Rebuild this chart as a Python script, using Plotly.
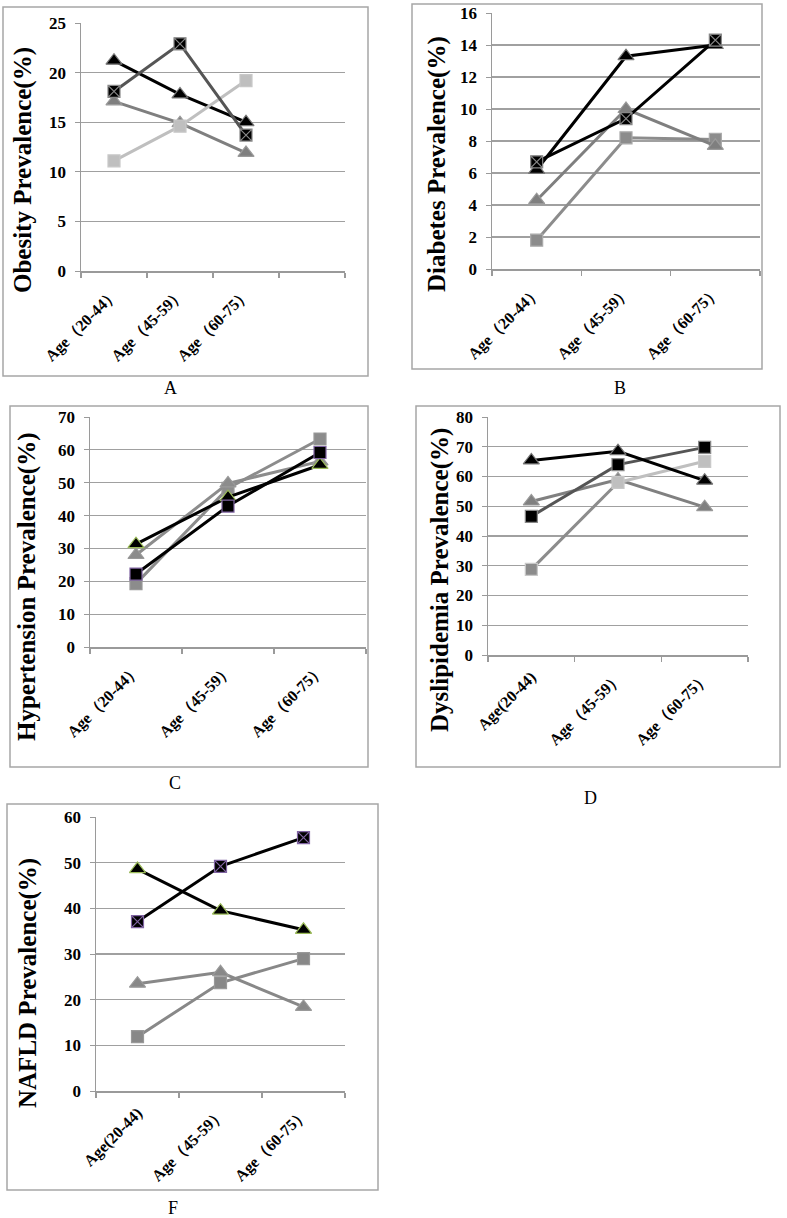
import plotly.graph_objects as go

W, H = 787, 1218

# ---------------- data ----------------
cats_abc = ["Age（20-44）", "Age（45-59）", "Age（60-75）"]
cats_df = ["Age(20-44)", "Age（45-59）", "Age（60-75）"]

# A: Obesity
a_tri_black = [21.2, 17.8, 15.0]
a_sqx_dark = [18.1, 22.9, 13.7]
a_tri_gray = [17.1, 14.9, 11.9]
a_sq_light = [11.1, 14.6, 19.2]

# B: Diabetes
b_tri_black = [6.2, 13.3, 14.0]
b_sqx_black = [6.7, 9.4, 14.3]
b_tri_gray = [4.3, 10.0, 7.7]
b_sq_gray = [1.8, 8.2, 8.1]

# C: Hypertension
c_tri_black = [31.3, 45.6, 55.4]
c_sq_black = [22.2, 42.9, 59.2]
c_tri_gray = [28.0, 49.8, 56.5]
c_sq_gray = [19.3, 48.3, 63.3]

# D: Dyslipidemia
d_tri_black = [65.4, 68.5, 58.6]
d_sq_black = [46.6, 64.0, 69.8]
d_tri_gray = [51.6, 59.0, 49.7]
d_sq_light = [28.8, 58.0, 65.1]

# F: NAFLD
f_tri_black = [48.6, 39.5, 35.3]
f_sqx_black = [37.1, 49.2, 55.5]
f_tri_gray = [23.5, 26.0, 18.4]
f_sq_gray = [11.9, 23.7, 29.0]

titles = ["Obesity Prevalence(%)", "Diabetes Prevalence(%)", "Hypertension Prevalence(%)",
          "Dyslipidemia Prevalence(%)", "NAFLD Prevalence(%)"]
panel_letters = ["A", "B", "C", "D", "F"]

SERIF = "Liberation Serif, Times New Roman, serif"

fig = go.Figure()


def xd(a, b):
    return [a / W, b / W]


def yd(top, bottom):
    return [1 - bottom / H, 1 - top / H]


def line_trace(cats, vals, ax, color, symbol, mcolor, mline, size=12, width=3, mode="lines+markers"):
    fig.add_trace(go.Scatter(
        x=list(range(len(cats))), y=vals, xaxis="x" + ax, yaxis="y" + ax, mode=mode,
        line=dict(color=color, width=width),
        marker=dict(symbol=symbol, size=size, color=mcolor, line=dict(color=mline, width=1.2)),
        showlegend=False, hoverinfo="skip"))


GREEN = "#9bbb59"
PURPLE = "#8064a2"

# A
line_trace(cats_abc, a_tri_gray, "", "#7f7f7f", "triangle-up", "#7f7f7f", "#9a9a9a", 14)
line_trace(cats_abc, a_tri_black, "", "#000000", "triangle-up", "#000000", "#777777", 14)
line_trace(cats_abc, a_sq_light, "", "#bfbfbf", "square", "#bfbfbf", "#c8c8c8", 12)
line_trace(cats_abc, a_sqx_dark, "", "#555555", "square-x", "#000000", "#888888", 12)
# B
line_trace(cats_abc, b_sq_gray, "2", "#8c8c8c", "square", "#8c8c8c", "#aaaaaa", 12)
line_trace(cats_abc, b_tri_gray, "2", "#7f7f7f", "triangle-up", "#7f7f7f", "#9a9a9a", 14)
line_trace(cats_abc, b_tri_black, "2", "#000000", "triangle-up", "#000000", "#777777", 14)
line_trace(cats_abc, b_sqx_black, "2", "#000000", "square-x", "#000000", "#888888", 12)
# C
line_trace(cats_abc, c_sq_gray, "3", "#8c8c8c", "square", "#8c8c8c", "#999999", 12)
line_trace(cats_abc, c_tri_gray, "3", "#8c8c8c", "triangle-up", "#8c8c8c", "#999999", 14)
line_trace(cats_abc, c_tri_black, "3", "#000000", "triangle-up", "#000000", GREEN, 14)
line_trace(cats_abc, c_sq_black, "3", "#000000", "square", "#000000", PURPLE, 12)
# D
line_trace(cats_df, d_tri_gray, "4", "#808080", "triangle-up", "#808080", "#999999", 14)
fig.add_trace(go.Scatter(x=list(range(len(cats_df)))[:2], y=d_sq_light[:2], xaxis="x4", yaxis="y4",
                         mode="lines", line=dict(color="#8c8c8c", width=3), showlegend=False, hoverinfo="skip"))
fig.add_trace(go.Scatter(x=list(range(len(cats_df)))[1:], y=d_sq_light[1:], xaxis="x4", yaxis="y4",
                         mode="lines", line=dict(color="#bfbfbf", width=3), showlegend=False, hoverinfo="skip"))
fig.add_trace(go.Scatter(x=list(range(len(cats_df))), y=d_sq_light, xaxis="x4", yaxis="y4", mode="markers",
                         marker=dict(symbol="square", size=12, color=["#8c8c8c", "#bfbfbf", "#bfbfbf"],
                                     line=dict(color="#c8c8c8", width=1.2)),
                         showlegend=False, hoverinfo="skip"))
line_trace(cats_df, d_sq_black, "4", "#555555", "square", "#000000", "#888888", 12)
line_trace(cats_df, d_tri_black, "4", "#000000", "triangle-up", "#000000", "#777777", 14)
# F
line_trace(cats_df, f_tri_gray, "5", "#888888", "triangle-up", "#888888", "#999999", 14)
line_trace(cats_df, f_sq_gray, "5", "#888888", "square", "#888888", "#999999", 12)
line_trace(cats_df, f_tri_black, "5", "#000000", "triangle-up", "#000000", GREEN, 14)
line_trace(cats_df, f_sqx_black, "5", "#000000", "square-x", "#000000", PURPLE, 12)

# ---------------- axes ----------------
AXC = "#9a9a9a"
GRIDC = "#a0a0a0"
tickfont = dict(family=SERIF, size=17, color="#000000", weight="bold")

panels = [
    # suffix, cats, nslots, x px, y px(top,bottom), ymax, dtick
    ("", cats_abc, 4, (81, 345), (23, 271), 25, 5),
    ("2", cats_abc, 3, (492, 760), (13, 269), 16, 2),
    ("3", cats_abc, 3, (90, 366), (417, 647), 70, 10),
    ("4", cats_df, 3, (488, 748), (417, 655), 80, 10),
    ("5", cats_df, 3, (96, 345), (817, 1091), 60, 10),
]

layout_axes = {}
for suf, cats, nslots, (x0, x1), (yt, yb), ymax, dt in panels:
    xname = "xaxis" + suf
    yname = "yaxis" + suf
    layout_axes[xname] = dict(
        domain=xd(x0, x1), anchor="y" + suf, range=[-0.5, nslots - 0.5], automargin=False,
        tickmode="array", tickvals=list(range(len(cats))), ticktext=cats,
        tickangle=-45, ticks="outside", ticklen=5, tickcolor="rgba(0,0,0,0)",
        showline=True, linecolor=AXC, linewidth=1.5, showgrid=False, zeroline=False,
        tickfont=dict(family=SERIF, size=16, color="#000000", weight="bold"),
        minor=dict(tickmode="array", tickvals=[i - 0.5 for i in range(nslots + 1)],
                   ticks="outside", ticklen=5, tickcolor=AXC, tickwidth=1.2, showgrid=False),
        fixedrange=True)
    layout_axes[yname] = dict(
        domain=yd(yt, yb), anchor="x" + suf, range=[0, ymax], dtick=dt, tick0=0, automargin=False,
        ticks="outside", ticklen=5, tickcolor=AXC, showline=True, linecolor=AXC, linewidth=1.5,
        showgrid=True, gridcolor=GRIDC, gridwidth=1.2, zeroline=False, tickfont=tickfont,
        ticklabelstandoff=5, fixedrange=True)

# ---------------- borders, labels ----------------
borders = [(3, 7, 368, 376), (412, 4, 762, 369), (10, 406, 368, 767), (416, 406, 780, 767), (7, 804, 378, 1190)]
shapes = [dict(type="rect", xref="paper", yref="paper", x0=a / W, x1=c / W, y0=1 - d / H, y1=1 - b / H,
               line=dict(color="#a6a6a6", width=1.5), layer="below") for a, b, c, d in borders]

letter_pos = [(170, 388), (620, 388), (175, 783), (590, 798), (173, 1208)]
title_pos = [(23, 170), (437, 164), (27, 587), (440, 580), (28, 983)]

annotations = []
for letter, (lx, ly) in zip(panel_letters, letter_pos):
    annotations.append(dict(text=letter, x=lx / W, y=1 - ly / H, xref="paper", yref="paper",
                            showarrow=False, font=dict(family=SERIF, size=18, color="#000000"),
                            xanchor="center", yanchor="middle"))
for t, (tx, ty) in zip(titles, title_pos):
    annotations.append(dict(text=t, x=tx / W, y=1 - ty / H, xref="paper", yref="paper",
                            showarrow=False, textangle=-90,
                            font=dict(family=SERIF, size=25, color="#000000", weight="bold"),
                            xanchor="center", yanchor="middle"))

fig.update_layout(width=W, height=H, margin=dict(l=0, r=0, t=0, b=0, pad=0, autoexpand=False),
                  paper_bgcolor="white", plot_bgcolor="white",
                  shapes=shapes, annotations=annotations, **layout_axes)

fig.write_html("out.html", config={"displayModeBar": False, "staticPlot": True},
               post_script="document.body.style.margin='0';document.body.style.padding='0';"
                           "document.documentElement.style.overflow='hidden';")
